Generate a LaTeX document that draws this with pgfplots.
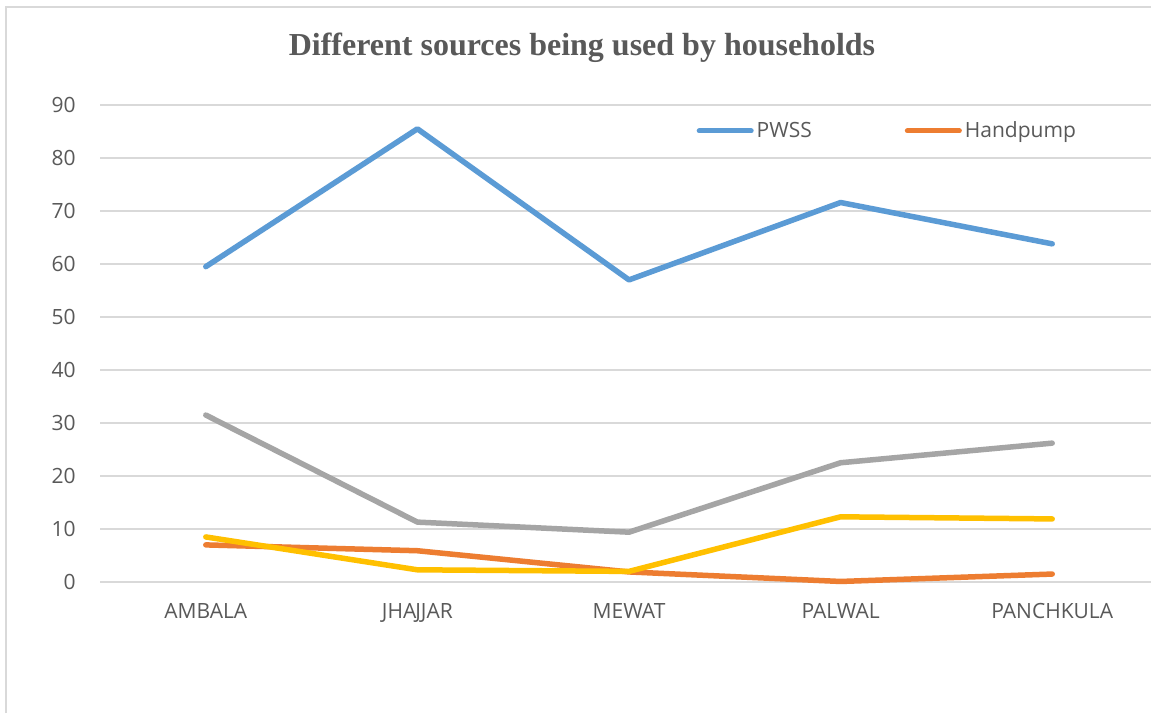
\documentclass[border=0pt]{standalone}
\usepackage{pgfplots}
\pgfplotsset{compat=1.18}
\usepackage{fontspec}
\setmainfont{Open Sans}
\newfontfamily\titlefont{Liberation Serif}
\definecolor{cblue}{HTML}{5B9BD5}
\definecolor{corange}{HTML}{ED7D31}
\definecolor{cgray}{HTML}{A5A5A5}
\definecolor{cyellow}{HTML}{FFC000}
\definecolor{ctext}{HTML}{595959}
\definecolor{cgrid}{HTML}{D9D9D9}
\begin{document}
\begin{tikzpicture}
\useasboundingbox (0pt,0pt) rectangle (575.5pt,356.5pt);
\clip (0pt,0pt) rectangle (575.5pt,356.5pt);
\fill[white] (0pt,0pt) rectangle (575.5pt,356.5pt);
\draw[cgrid, line width=0.8pt] (3pt,0pt) -- (3pt,353pt) -- (575.5pt,353pt);
\node[text=ctext, font=\titlefont\bfseries\fontsize{16}{19}\selectfont] at (291pt,332.5pt) {Different sources being used by households};
\begin{axis}[
  at={(50pt,65.5pt)}, anchor=south west,
  scale only axis, width=529pt, height=238.5pt,
  xmin=-0.5, xmax=4.5, ymin=0, ymax=90,
  axis line style={draw=none},
  tick style={draw=none},
  clip=false,
  xtick={0,1,2,3,4},
  xticklabels={AMBALA,JHA\kern-0.5pt JJAR,MEWAT,PALWAL,PANCHKULA},
  ytick={0,10,...,90},
  ymajorgrids, major grid style={cgrid, line width=0.75pt},
  major tick length=0pt,
  tick label style={text=ctext, font=\fontsize{10.5}{12}\selectfont},
  /pgf/number format/assume math mode=true,
  xticklabel style={anchor=north, inner sep=0pt, yshift=-10.5pt},
  yticklabel style={anchor=east, inner sep=0pt, xshift=-12pt},
  legend style={at={(0.564,0.9455)}, anchor=west, draw=none, fill=none,
    inner sep=0pt, outer sep=0pt,
    font=\fontsize{10.5}{12}\selectfont, text=ctext,
    legend columns=2,
    /tikz/every even column/.append style={column sep=45pt},
    nodes={inner sep=1.5pt, anchor=west}},
  legend image code/.code={\draw[#1, line width=2.5pt, line cap=round] (0pt,0pt) -- (26pt,0pt);},
  every axis plot/.append style={line width=2.75pt, line cap=round, line join=round},
]
\addplot[cblue] coordinates {(0,59.5) (1,85.5) (2,57.0) (3,71.6) (4,63.8)};
\addlegendentry{PWSS}
\addplot[corange] coordinates {(0,7.0) (1,5.9) (2,1.9) (3,0.1) (4,1.5)};
\addlegendentry{Handpump}
\addplot[cgray, forget plot] coordinates {(0,31.5) (1,11.3) (2,9.4) (3,22.5) (4,26.2)};
\addplot[cyellow, forget plot] coordinates {(0,8.5) (1,2.3) (2,2.0) (3,12.3) (4,11.9)};
\end{axis}
\end{tikzpicture}
\end{document}
